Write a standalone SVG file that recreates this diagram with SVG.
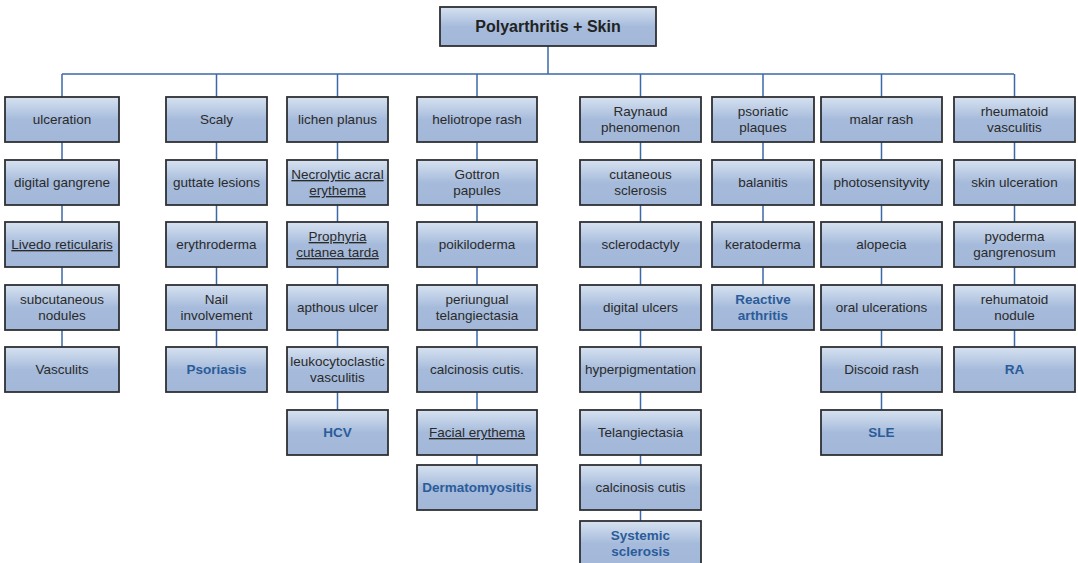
<svg xmlns="http://www.w3.org/2000/svg" width="1078" height="563" viewBox="0 0 1078 563">
<defs>
<linearGradient id="g" x1="0" y1="0" x2="0" y2="1">
<stop offset="0" stop-color="#d7e2f1"/>
<stop offset="0.5" stop-color="#a6bbdb"/>
<stop offset="1" stop-color="#a3b8d9"/>
</linearGradient>
</defs>
<style>
.b{fill:url(#g);stroke:#2e3033;stroke-width:1.8}
.t{font-family:"Liberation Sans",Arial,sans-serif;font-size:13.5px;fill:#2a2a2a;text-anchor:middle}
.d{font-family:"Liberation Sans",Arial,sans-serif;font-size:13.5px;font-weight:bold;fill:#2b5c9a;text-anchor:middle}
.u{text-decoration:underline}
.r{font-family:"Liberation Sans",Arial,sans-serif;font-size:16px;font-weight:bold;fill:#222;text-anchor:middle}
.c{stroke:#3b69a6;stroke-width:1.5;fill:none}
</style>
<rect width="1078" height="563" fill="#ffffff"/>
<g id="connectors">
<path class="c" d="M548 46V74M62 74H1014"/>
<path class="c" d="M62 74V97M62 142V160M62 205V222M62 267V285M62 330V347"/>
<path class="c" d="M216.5 74V97M216.5 142V160M216.5 205V222M216.5 267V285M216.5 330V347"/>
<path class="c" d="M337.5 74V97M337.5 142V160M337.5 205V222M337.5 267V285M337.5 330V347M337.5 392V410"/>
<path class="c" d="M477 74V97M477 142V160M477 205V222M477 267V285M477 330V347M477 392V410M477 455V465"/>
<path class="c" d="M640.5 74V97M640.5 142V160M640.5 205V222M640.5 267V285M640.5 330V347M640.5 392V410M640.5 455V465M640.5 510V521"/>
<path class="c" d="M763 74V97M763 142V160M763 205V222M763 267V285"/>
<path class="c" d="M881.5 74V97M881.5 142V160M881.5 205V222M881.5 267V285M881.5 330V347M881.5 392V410"/>
<path class="c" d="M1014.5 74V97M1014.5 142V160M1014.5 205V222M1014.5 267V285M1014.5 330V347"/>
</g>
<g id="root"><rect class="b" x="440" y="7" width="216" height="39"/><text class="r" x="548" y="32">Polyarthritis + Skin</text></g>

<g id="c1r1"><rect class="b" x="5" y="97" width="114" height="45"/><text class="t" x="62" y="124">ulceration</text></g>
<g id="c1r2"><rect class="b" x="5" y="160" width="114" height="45"/><text class="t" x="62" y="187">digital gangrene</text></g>
<g id="c1r3"><rect class="b" x="5" y="222" width="114" height="45"/><text class="t u" x="62" y="249">Livedo reticularis</text></g>
<g id="c1r4"><rect class="b" x="5" y="285" width="114" height="45"/><text class="t" x="62" y="304">subcutaneous</text><text class="t" x="62" y="320">nodules</text></g>
<g id="c1r5"><rect class="b" x="5" y="347" width="114" height="45"/><text class="t" x="62" y="374">Vasculits</text></g>

<g id="c2r1"><rect class="b" x="166" y="97" width="101" height="45"/><text class="t" x="216.5" y="124">Scaly</text></g>
<g id="c2r2"><rect class="b" x="166" y="160" width="101" height="45"/><text class="t" x="216.5" y="187">guttate lesions</text></g>
<g id="c2r3"><rect class="b" x="166" y="222" width="101" height="45"/><text class="t" x="216.5" y="249">erythroderma</text></g>
<g id="c2r4"><rect class="b" x="166" y="285" width="101" height="45"/><text class="t" x="216.5" y="304">Nail</text><text class="t" x="216.5" y="320">involvement</text></g>
<g id="c2r5"><rect class="b" x="166" y="347" width="101" height="45"/><text class="d" x="216.5" y="374">Psoriasis</text></g>

<g id="c3r1"><rect class="b" x="287" y="97" width="101" height="45"/><text class="t" x="337.5" y="124">lichen planus</text></g>
<g id="c3r2"><rect class="b" x="287" y="160" width="101" height="45"/><text class="t u" x="337.5" y="179">Necrolytic acral</text><text class="t u" x="337.5" y="195">erythema</text></g>
<g id="c3r3"><rect class="b" x="287" y="222" width="101" height="45"/><text class="t u" x="337.5" y="241">Prophyria</text><text class="t u" x="337.5" y="257">cutanea tarda</text></g>
<g id="c3r4"><rect class="b" x="287" y="285" width="101" height="45"/><text class="t" x="337.5" y="312">apthous ulcer</text></g>
<g id="c3r5"><rect class="b" x="287" y="347" width="101" height="45"/><text class="t" x="337.5" y="366">leukocytoclastic</text><text class="t" x="337.5" y="382">vasculitis</text></g>
<g id="c3r6"><rect class="b" x="287" y="410" width="101" height="45"/><text class="d" x="337.5" y="437">HCV</text></g>

<g id="c4r1"><rect class="b" x="417" y="97" width="120" height="45"/><text class="t" x="477" y="124">heliotrope rash</text></g>
<g id="c4r2"><rect class="b" x="417" y="160" width="120" height="45"/><text class="t" x="477" y="179">Gottron</text><text class="t" x="477" y="195">papules</text></g>
<g id="c4r3"><rect class="b" x="417" y="222" width="120" height="45"/><text class="t" x="477" y="249">poikiloderma</text></g>
<g id="c4r4"><rect class="b" x="417" y="285" width="120" height="45"/><text class="t" x="477" y="304">periungual</text><text class="t" x="477" y="320">telangiectasia</text></g>
<g id="c4r5"><rect class="b" x="417" y="347" width="120" height="45"/><text class="t" x="477" y="374">calcinosis cutis.</text></g>
<g id="c4r6"><rect class="b" x="417" y="410" width="120" height="45"/><text class="t u" x="477" y="437">Facial erythema</text></g>
<g id="c4r7"><rect class="b" x="417" y="465" width="120" height="45"/><text class="d" x="477" y="492">Dermatomyositis</text></g>

<g id="c5r1"><rect class="b" x="580" y="97" width="121" height="45"/><text class="t" x="640.5" y="116">Raynaud</text><text class="t" x="640.5" y="132">phenomenon</text></g>
<g id="c5r2"><rect class="b" x="580" y="160" width="121" height="45"/><text class="t" x="640.5" y="179">cutaneous</text><text class="t" x="640.5" y="195">sclerosis</text></g>
<g id="c5r3"><rect class="b" x="580" y="222" width="121" height="45"/><text class="t" x="640.5" y="249">sclerodactyly</text></g>
<g id="c5r4"><rect class="b" x="580" y="285" width="121" height="45"/><text class="t" x="640.5" y="312">digital ulcers</text></g>
<g id="c5r5"><rect class="b" x="580" y="347" width="121" height="45"/><text class="t" x="640.5" y="374">hyperpigmentation</text></g>
<g id="c5r6"><rect class="b" x="580" y="410" width="121" height="45"/><text class="t" x="640.5" y="437">Telangiectasia</text></g>
<g id="c5r7"><rect class="b" x="580" y="465" width="121" height="45"/><text class="t" x="640.5" y="492">calcinosis cutis</text></g>
<g id="c5r8"><rect class="b" x="580" y="521" width="121" height="45"/><text class="d" x="640.5" y="540">Systemic</text><text class="d" x="640.5" y="556">sclerosis</text></g>

<g id="c6r1"><rect class="b" x="712" y="97" width="102" height="45"/><text class="t" x="763" y="116">psoriatic</text><text class="t" x="763" y="132">plaques</text></g>
<g id="c6r2"><rect class="b" x="712" y="160" width="102" height="45"/><text class="t" x="763" y="187">balanitis</text></g>
<g id="c6r3"><rect class="b" x="712" y="222" width="102" height="45"/><text class="t" x="763" y="249">keratoderma</text></g>
<g id="c6r4"><rect class="b" x="712" y="285" width="102" height="45"/><text class="d" x="763" y="304">Reactive</text><text class="d" x="763" y="320">arthritis</text></g>

<g id="c7r1"><rect class="b" x="821" y="97" width="121" height="45"/><text class="t" x="881.5" y="124">malar rash</text></g>
<g id="c7r2"><rect class="b" x="821" y="160" width="121" height="45"/><text class="t" x="881.5" y="187">photosensityvity</text></g>
<g id="c7r3"><rect class="b" x="821" y="222" width="121" height="45"/><text class="t" x="881.5" y="249">alopecia</text></g>
<g id="c7r4"><rect class="b" x="821" y="285" width="121" height="45"/><text class="t" x="881.5" y="312">oral ulcerations</text></g>
<g id="c7r5"><rect class="b" x="821" y="347" width="121" height="45"/><text class="t" x="881.5" y="374">Discoid rash</text></g>
<g id="c7r6"><rect class="b" x="821" y="410" width="121" height="45"/><text class="d" x="881.5" y="437">SLE</text></g>

<g id="c8r1"><rect class="b" x="954" y="97" width="121" height="45"/><text class="t" x="1014.5" y="116">rheumatoid</text><text class="t" x="1014.5" y="132">vasculitis</text></g>
<g id="c8r2"><rect class="b" x="954" y="160" width="121" height="45"/><text class="t" x="1014.5" y="187">skin ulceration</text></g>
<g id="c8r3"><rect class="b" x="954" y="222" width="121" height="45"/><text class="t" x="1014.5" y="241">pyoderma</text><text class="t" x="1014.5" y="257">gangrenosum</text></g>
<g id="c8r4"><rect class="b" x="954" y="285" width="121" height="45"/><text class="t" x="1014.5" y="304">rehumatoid</text><text class="t" x="1014.5" y="320">nodule</text></g>
<g id="c8r5"><rect class="b" x="954" y="347" width="121" height="45"/><text class="d" x="1014.5" y="374">RA</text></g>
</svg>
